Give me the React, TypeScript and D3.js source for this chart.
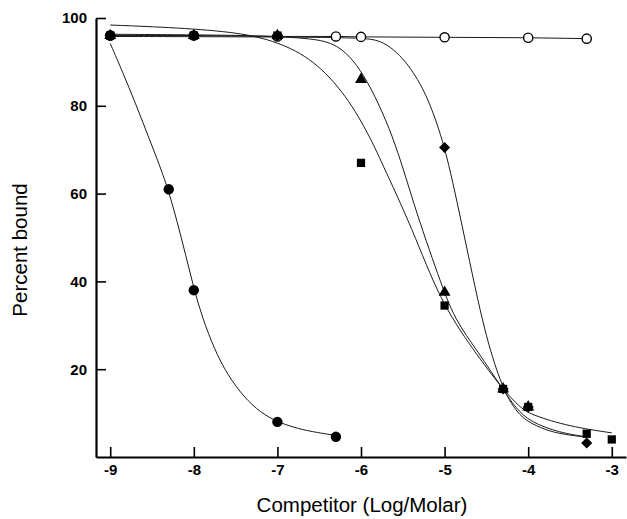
import { useEffect, useRef } from 'react'
import * as d3 from 'd3'

const W = 627
const H = 519

const xTicks = [-9, -8, -7, -6, -5, -4, -3]
const yTicks = [20, 40, 60, 80, 100]

// measured points (log molar, percent bound)
const filledX = [-9, -8.3, -8, -7, -6.3]
const filledY = [96, 61, 38, 8, 4.6]

const openX = [-9, -8, -7, -6.3, -6, -5, -4, -3.3]
const openY = [96, 96, 95.8, 95.8, 95.7, 95.6, 95.5, 95.3]

const triX = [-9, -8, -7, -6, -5, -4.3, -4]
const triY = [96, 96, 96, 86, 37.5, 15.5, 11.4]

const sqX = [-9, -8, -7, -6, -5, -4.3, -4, -3.3, -3]
const sqY = [96, 96, 96, 67, 34.5, 15.5, 11.4, 5.3, 4]

const diaX = [-9, -8, -7, -5, -4.3, -4, -3.3]
const diaY = [96, 96, 96, 70.5, 15.5, 11.4, 3.2]

// fitted curves
const fitFilledX = [-9, -8.85, -8.7, -8.55, -8.4, -8.3, -8.2, -8.1, -8, -7.9, -7.75, -7.6, -7.4, -7.2, -7, -6.8, -6.6, -6.3]
const fitFilledY = [94.2, 87.6, 80.7, 73.3, 66, 60.5, 53.7, 46.2, 38.5, 31.8, 24.4, 18.8, 13.6, 10.1, 8, 6.7, 5.8, 4.9]

const fitSqX = [-9, -8.2, -7.45, -7, -6.57, -6.17, -5.89, -5.77, -5.38, -5.06, -4.66, -4.3, -4.1, -3.98, -3.5, -3]
const fitSqY = [98.4, 97.8, 96.7, 94.6, 90.6, 82.3, 72.8, 67.8, 51.8, 35.8, 24.4, 15.3, 11.4, 9.7, 6.9, 5.5]

const fitTriX = [-9, -7.5, -7, -6.6, -6.29, -5.98, -5.6, -5.38, -5.06, -4.88, -4.6, -4.3, -4.15, -3.98, -3.62, -3.3]
const fitTriY = [96.3, 96.1, 95.8, 95.3, 94.3, 88.4, 72.8, 58, 40.4, 31.3, 24, 15.3, 11.2, 8.0, 5.5, 4.6]

const fitDiaX = [-9, -7, -6, -5.8, -5.65, -5.5, -5.4, -5.3, -5.2, -5.1, -5, -4.9, -4.8, -4.7, -4.6, -4.5, -4.4, -4.3, -4.2, -4.1, -4, -3.8, -3.6, -3.3]
const fitDiaY = [95.8, 95.7, 95.5, 95.0, 93.5, 90.8, 88.3, 85.3, 81.5, 76.5, 70.5, 62.5, 53.5, 44.5, 35.5, 27.5, 21, 15.8, 12, 9.6, 8.0, 6.2, 5.2, 4.5]

const zip = (xs: number[], ys: number[]) => xs.map((v, i) => [v, ys[i]] as [number, number])

export default function App() {
  const svgRef = useRef<SVGSVGElement>(null)

  useEffect(() => {
    if (!svgRef.current) return
    const svg = d3.select(svgRef.current)
    svg.selectAll('*').remove()

    const x = d3.scaleLinear().domain([-9.17, -2.83]).range([96, 626])
    const y = d3.scaleLinear().domain([0, 100]).range([457, 18])

    const fit = d3.line<[number, number]>()
      .x(d => x(d[0])).y(d => y(d[1]))
      .curve(d3.curveBasis)

    const curves = [
      zip(fitFilledX, fitFilledY),
      zip(fitSqX, fitSqY),
      zip(fitTriX, fitTriY),
      zip(fitDiaX, fitDiaY),
    ]
    svg.append('g').selectAll('path')
      .data(curves)
      .join('path')
      .attr('d', d => fit(d))
      .attr('fill', 'none')
      .attr('stroke', '#1a1a1a')
      .attr('stroke-width', 1)

    // open circle series joined by straight segments
    const straight = d3.line<[number, number]>().x(d => x(d[0])).y(d => y(d[1]))
    svg.append('path')
      .attr('d', straight(zip(openX, openY)))
      .attr('fill', 'none')
      .attr('stroke', '#1a1a1a')
      .attr('stroke-width', 1)

    svg.append('g').selectAll('circle')
      .data(zip(openX, openY))
      .join('circle')
      .attr('cx', d => x(d[0])).attr('cy', d => y(d[1]))
      .attr('r', 4.6)
      .attr('fill', '#fff')
      .attr('stroke', '#000')
      .attr('stroke-width', 1.4)

    const sym = (type: d3.SymbolType, size: number) => d3.symbol().type(type).size(size)()

    const drawSymbols = (pts: [number, number][], path: string | null, rot = 0) => {
      svg.append('g').selectAll('path')
        .data(pts)
        .join('path')
        .attr('d', path)
        .attr('transform', d => `translate(${x(d[0])},${y(d[1])}) rotate(${rot})`)
        .attr('fill', '#000')
    }

    drawSymbols(zip(triX, triY), sym(d3.symbolTriangle, 62))
    drawSymbols(zip(sqX, sqY), sym(d3.symbolSquare, 68))
    drawSymbols(zip(diaX, diaY), sym(d3.symbolSquare, 62), 45)

    svg.append('g').selectAll('circle')
      .data(zip(filledX, filledY))
      .join('circle')
      .attr('cx', d => x(d[0])).attr('cy', d => y(d[1]))
      .attr('r', 5.2)
      .attr('fill', '#000')

    // axes
    const font = 'Liberation Sans, Arial, Helvetica, sans-serif'
    const gx = svg.append('g')
      .attr('transform', `translate(0,${y(0)})`)
      .call(d3.axisBottom(x).tickValues(xTicks).tickSizeInner(-10).tickSizeOuter(0).tickPadding(7.5).tickFormat(d => String(d)))
    const gy = svg.append('g')
      .attr('transform', `translate(${x.range()[0]},0)`)
      .call(d3.axisLeft(y).tickValues(yTicks).tickSizeInner(-10).tickSizeOuter(0).tickPadding(9).tickFormat(d => String(d)))

    for (const g of [gx, gy]) {
      g.select('.domain').attr('stroke', '#000').attr('stroke-width', 2.2)
      g.selectAll('.tick line').attr('stroke', '#000').attr('stroke-width', 1.6)
      g.selectAll('.tick text')
        .attr('fill', '#000')
        .attr('font-size', 15)
        .attr('font-weight', 'bold')
        .attr('font-family', font)
    }

    svg.append('text')
      .attr('x', 362).attr('y', 512)
      .attr('text-anchor', 'middle')
      .attr('font-size', 20.5)
      .attr('font-family', font)
      .attr('fill', '#000')
      .text('Competitor (Log/Molar)')

    svg.append('text')
      .attr('transform', 'translate(27,250) rotate(-90)')
      .attr('text-anchor', 'middle')
      .attr('font-size', 20.5)
      .attr('font-family', font)
      .attr('fill', '#000')
      .text('Percent bound')
  }, [])

  return (
    <svg
      ref={svgRef}
      width={W}
      height={H}
      style={{ position: 'absolute', left: 0, top: 0, background: '#fff' }}
      role="img"
      aria-label="Competition binding curves, percent bound versus competitor concentration"
    />
  )
}
